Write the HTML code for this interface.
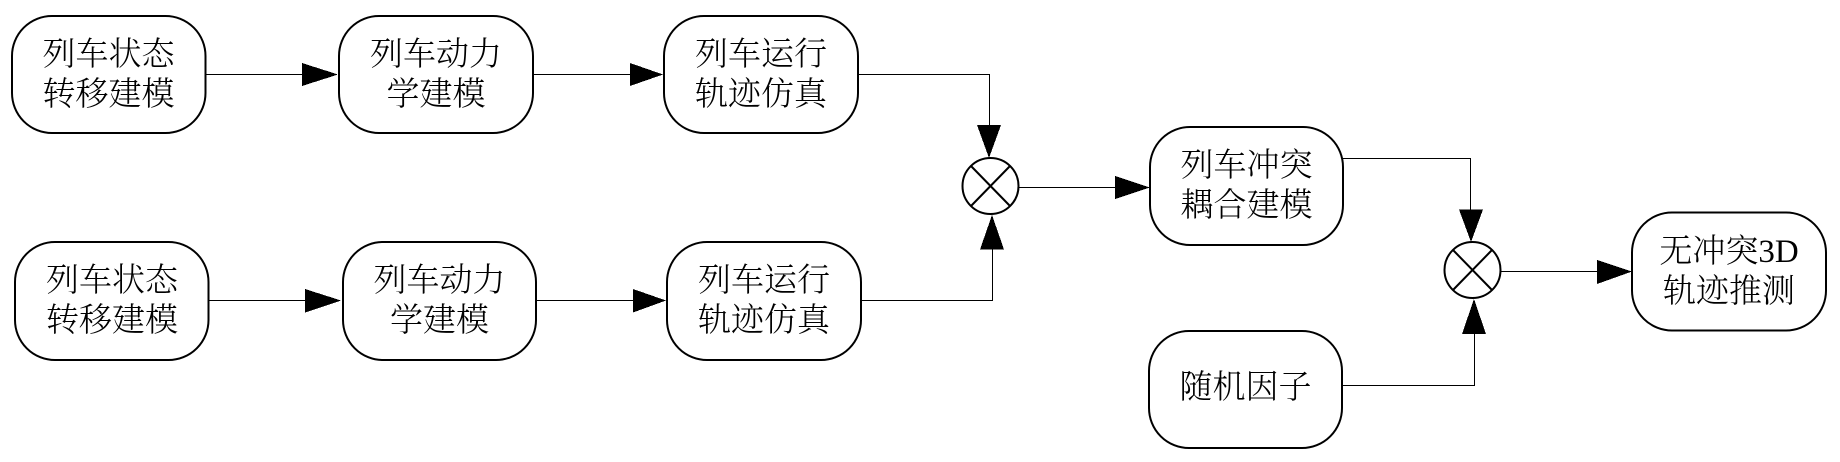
<!DOCTYPE html>
<html><head><meta charset="utf-8">
<style>
html,body{margin:0;padding:0;background:#fff}
svg{display:block}
text{font-family:"Liberation Serif","Noto Serif CJK SC",serif;font-size:33px;font-weight:300;fill:#000;text-anchor:middle}
.b{fill:#fff;stroke:#000;stroke-width:2}
.l{fill:none;stroke:#000;stroke-width:1.2;shape-rendering:crispEdges}
.c{fill:#fff;stroke:#000;stroke-width:2}
polygon{shape-rendering:crispEdges}
</style></head><body>
<svg width="1840" height="462" viewBox="0 0 1840 462" xmlns="http://www.w3.org/2000/svg">
<rect width="1840" height="462" fill="#fff"/>
<!-- connectors -->
<path class="l" d="M206 74.500H305M533 74.500H630M858 74.500H989.500V130"/>
<path class="l" d="M208 300.500H308M536 300.500H634M861 300.500H992.500V245"/>
<path class="l" d="M1018 187.500H1118M1343 158.500H1470.500V215M1342 385.500H1474.500V330M1500 271.500H1600"/>
<!-- arrowheads -->
<polygon points="302,63 302,86 338,74.500"/>
<polygon points="630,63 630,86 663,74.500"/>
<polygon points="305,289 305,312.500 341,300.500"/>
<polygon points="633,289 633,312.500 666,300.500"/>
<polygon points="977,125 1001,125 989,158"/>
<polygon points="980,249.500 1004,249.500 992,215"/>
<polygon points="1115,176 1115,199 1150,187.500"/>
<polygon points="1459,209.500 1483,209.500 1471,242"/>
<polygon points="1462,334 1486,334 1474,299"/>
<polygon points="1597,260 1597,284 1632,271.500"/>
<!-- boxes -->
<rect class="b" x="12" y="16" width="193.500" height="117" rx="40" ry="40"/>
<rect class="b" x="339" y="16" width="194" height="117" rx="40" ry="40"/>
<rect class="b" x="664" y="16" width="194" height="117" rx="40" ry="40"/>
<rect class="b" x="15" y="242" width="193.500" height="118" rx="40" ry="40"/>
<rect class="b" x="343" y="242" width="193" height="118" rx="40" ry="40"/>
<rect class="b" x="667" y="242" width="194" height="118" rx="40" ry="40"/>
<rect class="b" x="1150" y="127" width="193" height="118" rx="40" ry="40"/>
<rect class="b" x="1149" y="331" width="193" height="117" rx="40" ry="40"/>
<rect class="b" x="1632" y="212.500" width="194" height="118" rx="40" ry="40"/>
<!-- summing junctions -->
<circle class="c" cx="990.500" cy="186" r="28"/>
<path class="c" d="M971 166L1010 206M1010 166L971 206"/>
<circle class="c" cx="1472.500" cy="270" r="28"/>
<path class="c" d="M1453 250L1492 290M1492 250L1453 290"/>
<!-- labels -->
<text x="108.500" y="65">列车状态</text>
<text x="108.500" y="105">转移建模</text>
<text x="436" y="65">列车动力</text>
<text x="436" y="105">学建模</text>
<text x="761" y="65">列车运行</text>
<text x="761" y="105">轨迹仿真</text>
<text x="112" y="291">列车状态</text>
<text x="112" y="331">转移建模</text>
<text x="439.500" y="291">列车动力</text>
<text x="439.500" y="331">学建模</text>
<text x="764" y="291">列车运行</text>
<text x="764" y="331">轨迹仿真</text>
<text x="1246.500" y="176">列车冲突</text>
<text x="1246.500" y="216">耦合建模</text>
<text x="1245.500" y="398">随机因子</text>
<text x="1729" y="262">无冲突3D</text>
<text x="1729" y="302">轨迹推测</text>
</svg>
</body></html>
